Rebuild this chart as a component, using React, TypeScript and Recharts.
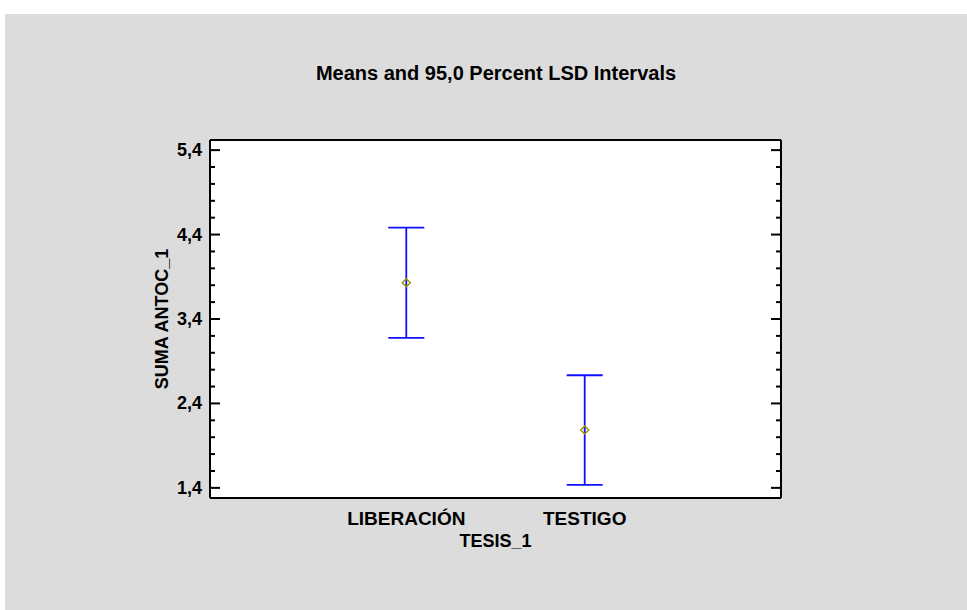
import { ComposedChart, Scatter, ErrorBar, XAxis, YAxis, CartesianGrid } from 'recharts'

const categories = ['LIBERACIÓN', 'TESTIGO']
const means = [3.83, 2.085]
const lsdHalf = [0.653, 0.649]

const yMajorTicks = [1.4, 2.4, 3.4, 4.4, 5.4]
const yAllTicks = [1.4, 1.6, 1.8, 2.0, 2.2, 2.4, 2.6, 2.8, 3.0, 3.2, 3.4, 3.6, 3.8, 4.0, 4.2, 4.4, 4.6, 4.8, 5.0, 5.2, 5.4]
const xTicks = [1, 2]
const Y_DOMAIN = [1.28, 5.52]
const X_DOMAIN = [-0.1, 3.1]

const data = categories.map((name, i) => ({
    name,
    x: i + 1,
    mean: means[i],
    err: lsdHalf[i]
}))

const FONT = '"Liberation Sans", Arial, sans-serif'

const isMajor = (v: number) => yMajorTicks.some(m => Math.abs(m - v) < 1e-6)

const LeftTick = ({ x, y, payload }: any) => {
    const major = isMajor(payload.value)
    return (
        <g>
            <line x1={x} x2={x + (major ? 10 : 5)} y1={y} y2={y} stroke="#000" strokeWidth={2} />
            {major && (
                <text x={x - 8} y={y} textAnchor="end" dominantBaseline="central"
                    fontFamily={FONT} fontWeight="bold" fontSize={18} fill="#000">
                    {payload.value.toFixed(1).replace('.', ',')}
                </text>
            )}
        </g>
    )
}

const RightTick = ({ x, y, payload }: any) => {
    const major = isMajor(payload.value)
    return <line x1={x} x2={x - (major ? 10 : 5)} y1={y} y2={y} stroke="#000" strokeWidth={2} />
}

const BottomTick = ({ x, y, payload }: any) => (
    <text x={x} y={y + 27} textAnchor="middle" fontFamily={FONT} fontWeight="bold" fontSize={19} fill="#000">
        {categories[payload.value - 1]}
    </text>
)

const Diamond = ({ cx, cy }: any) => (
    <path d={`M${cx},${cy - 4} L${cx + 4},${cy} L${cx},${cy + 4} L${cx - 4},${cy} Z`}
        fill="none" stroke="#9a9400" strokeWidth={1.5} />
)

export default function App() {
    return (
        <div style={{ position: 'absolute', left: 0, top: 0, width: 967, height: 610, background: '#fff' }}>
            <div style={{ position: 'absolute', left: 5, top: 14, width: 962, height: 596, background: '#dcdcdc' }}>
                <svg width={962} height={100} style={{ position: 'absolute', left: 0, top: 0 }}>
                    <text x={491} y={66} textAnchor="middle" fontFamily={FONT} fontWeight="bold" fontSize={20} fill="#000">
                        Means and 95,0 Percent LSD Intervals
                    </text>
                </svg>
                <ComposedChart width={962} height={596} data={data}
                    margin={{ top: 125, right: 185, bottom: 52, left: 145 }}
                    style={{ position: 'absolute', left: 0, top: 0 }}>
                    <CartesianGrid horizontal={false} vertical={false} fill="#fff" fillOpacity={1} stroke="none" />
                    <XAxis xAxisId="bottom" dataKey="x" type="number" domain={X_DOMAIN} ticks={xTicks}
                        height={60} tickSize={0} tickMargin={0} tickLine={false} tick={<BottomTick />}
                        axisLine={{ stroke: '#000', strokeWidth: 2 }}
                        label={{ value: 'TESIS_1', position: 'insideBottom', offset: 11, fontFamily: FONT, fontWeight: 'bold', fontSize: 18, fill: '#000' }} />
                    <XAxis xAxisId="top" orientation="top" dataKey="x" type="number" domain={X_DOMAIN}
                        height={1} tick={false} tickLine={false} axisLine={{ stroke: '#000', strokeWidth: 2 }} />
                    <YAxis yAxisId="left" type="number" domain={Y_DOMAIN} ticks={yAllTicks} interval={0}
                        allowDataOverflow width={60} tickSize={0} tickMargin={0} tickLine={false} tick={<LeftTick />}
                        axisLine={{ stroke: '#000', strokeWidth: 2 }}
                        label={{ value: 'SUMA ANTOC_1', angle: -90, position: 'insideLeft', offset: 0, dx: 12, fontFamily: FONT, fontWeight: 'bold', fontSize: 18, fill: '#000', style: { textAnchor: 'middle' } }} />
                    <YAxis yAxisId="right" orientation="right" type="number" domain={Y_DOMAIN} ticks={yAllTicks} interval={0}
                        allowDataOverflow width={1} tickSize={0} tickMargin={0} tickLine={false} tick={<RightTick />}
                        axisLine={{ stroke: '#000', strokeWidth: 2 }} />
                    <Scatter xAxisId="top" yAxisId="right" dataKey="mean" shape={() => <g />} legendType="none" isAnimationActive={false} />
                    <Scatter xAxisId="bottom" yAxisId="left" dataKey="mean" shape={<Diamond />} isAnimationActive={false}>
                        <ErrorBar dataKey="err" direction="y" width={18} stroke="#1010ff" strokeWidth={1.8} isAnimationActive={false} />
                    </Scatter>
                </ComposedChart>
            </div>
        </div>
    )
}
